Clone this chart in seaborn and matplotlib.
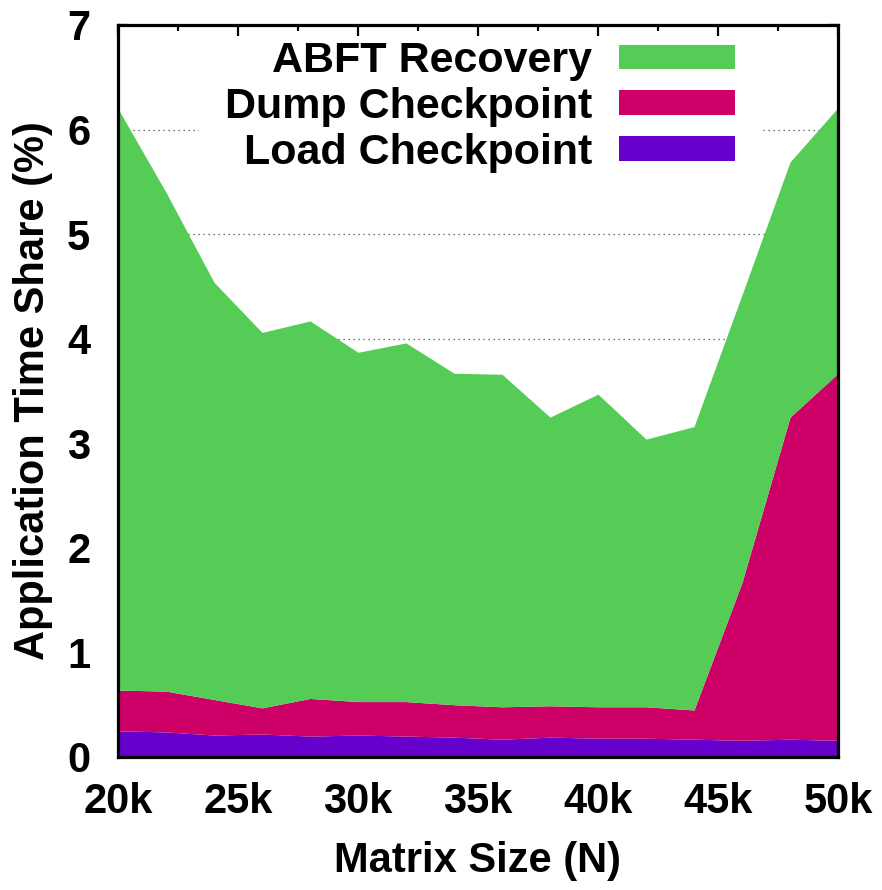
import matplotlib
matplotlib.use("Agg")
import matplotlib.pyplot as plt
from matplotlib.patches import Patch
from matplotlib.ticker import MultipleLocator
import pandas as pd
import seaborn as sns

# Matrix size in thousands (N)
matrix_k = [20, 22, 24, 26, 28, 30, 32, 34, 36, 38, 40, 42, 44, 46, 48, 50]

# Share of application time (%) per component
load_ckpt = [0.25, 0.24, 0.21, 0.22, 0.20, 0.21, 0.20, 0.19, 0.17, 0.19, 0.18, 0.18, 0.17, 0.16, 0.17, 0.16]
dump_ckpt = [0.39, 0.39, 0.34, 0.25, 0.36, 0.32, 0.33, 0.31, 0.31, 0.30, 0.30, 0.30, 0.28, 1.51, 3.08, 3.51]
abft_recovery = [5.56, 4.77, 3.99, 3.59, 3.61, 3.34, 3.43, 3.17, 3.18, 2.76, 2.99, 2.56, 2.71, 2.75, 2.44, 2.54]

series_names = ["Load Checkpoint", "Dump Checkpoint", "ABFT Recovery"]
series_colors = ["#6600cc", "#cc0066", "#55cc55"]

x_ticks = [20, 25, 30, 35, 40, 45, 50]
x_tick_labels = ["20k", "25k", "30k", "35k", "40k", "45k", "50k"]
y_ticks = [0, 1, 2, 3, 4, 5, 6, 7]

df = pd.DataFrame({
    "N": matrix_k,
    "Load Checkpoint": load_ckpt,
    "Dump Checkpoint": dump_ckpt,
    "ABFT Recovery": abft_recovery,
})

sns.set_theme(style="white")
plt.rcParams["font.family"] = ["Liberation Sans", "DejaVu Sans"]
plt.rcParams["font.weight"] = "bold"
for key in ("text.color", "axes.labelcolor", "xtick.color", "ytick.color"):
    plt.rcParams[key] = "black"

FS = 30
LEG_FS = 31

fig = plt.figure(figsize=(8.82, 8.90), dpi=100)
ax = fig.add_axes([118 / 882, 1 - 757 / 890, 720 / 882, 732 / 890])

ax.stackplot(df["N"], *[df[c] for c in series_names],
             colors=series_colors, linewidth=0, zorder=2)

ax.set_xlim(20, 50)
ax.set_ylim(0, 7)
ax.set_xticks(x_ticks)
ax.set_xticklabels(x_tick_labels)
ax.xaxis.set_minor_locator(MultipleLocator(2.5))
ax.set_yticks(y_ticks)

# dotted horizontal grid behind the filled areas
ax.yaxis.grid(True, color="#444444", linestyle=(0, (1, 3)), linewidth=0.9)
ax.xaxis.grid(False)
ax.yaxis.set_zorder(0.5)
ax.xaxis.set_zorder(6)

ax.tick_params(axis="x", which="both", direction="in", bottom=False, top=True,
               labelbottom=True, labeltop=False, width=1.6, color="black",
               labelsize=FS, pad=18, labelcolor="black")
ax.tick_params(axis="x", which="major", length=8)
ax.tick_params(axis="x", which="minor", length=4.5)
ax.tick_params(axis="y", which="both", direction="in", left=True, right=True,
               length=8, width=1.6, labelsize=FS, pad=20, labelcolor="black")

for lab in ax.get_xticklabels() + ax.get_yticklabels():
    lab.set_fontweight("bold")

for sp in ax.spines.values():
    sp.set_visible(True)
    sp.set_color("black")
    sp.set_linewidth(2.3)
    sp.set_zorder(7)

ax.set_xlabel("Matrix Size (N)", fontsize=FS, fontweight="bold", labelpad=14, color="black")
ax.set_ylabel("Application Time Share (%)", fontsize=FS, fontweight="bold", labelpad=10, color="black")

handles = [Patch(facecolor=series_colors[i], edgecolor="none") for i in (2, 1, 0)]
labels = [series_names[i] for i in (2, 1, 0)]
leg = ax.legend(handles, labels, loc="upper right", bbox_to_anchor=(0.893, 1.013),
                markerfirst=False, frameon=True, fancybox=False,
                prop={"size": LEG_FS, "weight": "bold"},
                handlelength=2.70, handleheight=0.51, handletextpad=0.62,
                labelspacing=0.13, borderpad=0.6, borderaxespad=0.0)
leg.get_frame().set_facecolor("white")
leg.get_frame().set_edgecolor("none")
leg.get_frame().set_alpha(1.0)
leg.set_zorder(5)
for t in leg.get_texts():
    t.set_color("black")

fig.savefig("out.png", dpi=100)
